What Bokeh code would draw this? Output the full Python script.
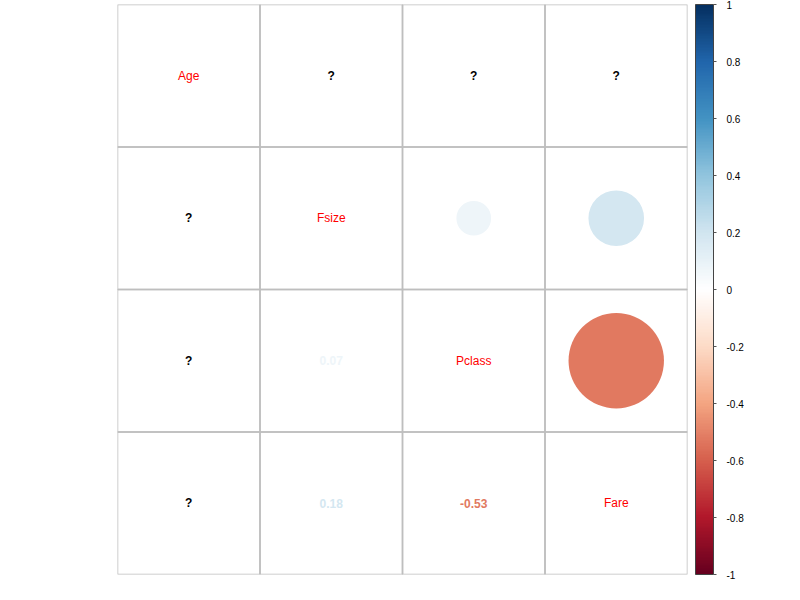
import numpy as np
from bokeh.plotting import figure
from bokeh.models import ColumnDataSource, ColorBar, LinearColorMapper, FixedTicker, CustomJSTickFormatter, Range1d
from bokeh.core.properties import value
from bokeh.embed import file_html
from bokeh.resources import INLINE

# ---- data ----
variables = ["Age", "Fsize", "Pclass", "Fare"]
# correlation matrix (None = NA, shown as "?")
corr = [
    [1.00, None, None, None],
    [None, 1.00, 0.07, 0.18],
    [None, 0.07, 1.00, -0.53],
    [None, 0.18, -0.53, 1.00],
]
colorbar_ticks = [-1, -0.8, -0.6, -0.4, -0.2, 0, 0.2, 0.4, 0.6, 0.8, 1]

# ---- palette (corrplot RdBu, 200 colours) ----
anchors = ["#67001F", "#B2182B", "#D6604D", "#F4A582", "#FDDBC7", "#FFFFFF",
           "#D1E5F0", "#92C5DE", "#4393C3", "#2166AC", "#053061"]
rgb = np.array([[int(h[i:i + 2], 16) for i in (1, 3, 5)] for h in anchors], dtype=float)
t_anchor = np.linspace(0, 1, len(anchors))
t = np.linspace(0, 1, 200)
pal_rgb = np.stack([np.interp(t, t_anchor, rgb[:, k]) for k in range(3)], axis=1)
palette = ["#%02x%02x%02x" % tuple(int(round(c)) for c in row) for row in pal_rgb]


def col_for(v):
    idx = int(np.clip(np.floor((v + 1) / 2 * 200), 0, 199))
    return palette[idx]


n = len(variables)
cell_x, cell_y = [], []
circ = dict(x=[], y=[], r=[], c=[])
nums = dict(x=[], y=[], t=[], c=[])
qs = dict(x=[], y=[])
diag = dict(x=[], y=[], t=[])
for i in range(n):
    for j in range(n):
        cx, cy = j + 1, i + 1
        cell_x.append(cx)
        cell_y.append(cy)
        v = corr[i][j]
        if i == j:
            diag["x"].append(cx); diag["y"].append(cy); diag["t"].append(variables[i])
        elif v is None:
            qs["x"].append(cx); qs["y"].append(cy)
        elif j > i:
            circ["x"].append(cx); circ["y"].append(cy)
            circ["r"].append(0.46 * np.sqrt(abs(v))); circ["c"].append(col_for(v))
        else:
            nums["x"].append(cx); nums["y"].append(cy)
            nums["t"].append("%.2f" % v); nums["c"].append(col_for(v))

p = figure(width=800, height=600, output_backend="svg", toolbar_location=None,
           x_range=Range1d(0.5, n + 0.5), y_range=Range1d(n + 0.5, 0.5),
           min_border_left=117, min_border_right=113, min_border_top=4, min_border_bottom=26)
p.axis.visible = False
p.grid.visible = False
p.outline_line_color = None

p.rect(x=cell_x, y=cell_y, width=1, height=1, fill_color=None,
       line_color="#bebebe", line_width=1.5)

p.circle(x="x", y="y", radius="r", fill_color="c", line_color=None,
         source=ColumnDataSource(circ))

font = value("Liberation Sans")
p.text(x="x", y="y", text="t", text_color="c", source=ColumnDataSource(nums),
       text_align="center", text_baseline="middle", text_font=font,
       text_font_size="12px", text_font_style="bold")
p.text(x="x", y="y", text=value("?"), text_color="black", source=ColumnDataSource(qs),
       text_align="center", text_baseline="middle", text_font=font,
       text_font_size="12px", text_font_style="bold")
p.text(x="x", y="y", text="t", text_color="red", source=ColumnDataSource(diag),
       text_align="center", text_baseline="middle", text_font=font,
       text_font_size="12px")

mapper = LinearColorMapper(palette=palette, low=-1, high=1)
cb = ColorBar(color_mapper=mapper, width=18, padding=0, margin=0, location=(8, 0),
              ticker=FixedTicker(ticks=colorbar_ticks),
              formatter=CustomJSTickFormatter(code="return Number(tick.toFixed(1)).toString()"),
              major_tick_in=0, major_tick_out=3, major_tick_line_color="#555555",
              bar_line_color="#444444", label_standoff=10,
              major_label_text_font="Liberation Sans", major_label_text_font_size="10px",
              major_label_text_color="black", background_fill_color=None,
              border_line_color=None)
p.add_layout(cb, "right")

open("out.html", "w").write(file_html(p, INLINE))
